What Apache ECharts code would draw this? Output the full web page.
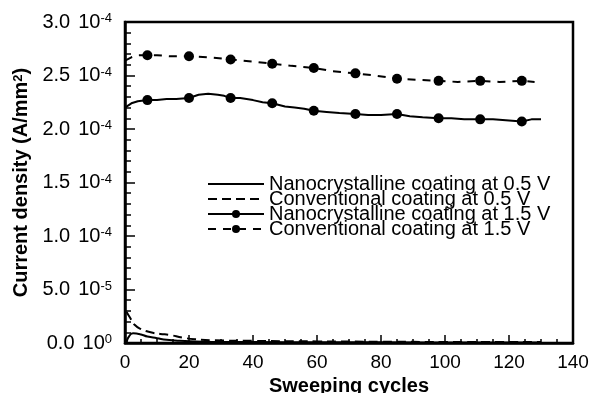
<!DOCTYPE html>
<html>
<head>
<meta charset="utf-8">
<script src="https://cdn.jsdelivr.net/npm/echarts@6/dist/echarts.min.js"></script>
<style>html,body{margin:0;padding:0;background:#fff}#c{width:592px;height:393px}</style>
</head>
<body>
<div id="c"></div>
<script>
// Values in units of 10^-4 A/mm^2
const seriesNames = [
  'Nanocrystalline coating at 0.5 V',
  'Conventional coating at 0.5 V',
  'Nanocrystalline coating at 1.5 V',
  'Conventional coating at 1.5 V'
];
const nano05X = [0.5, 1, 2.5, 5, 7, 10, 13, 17, 22, 30, 50, 80, 110, 130];
const nano05Y = [0.0, 0.05, 0.09, 0.08, 0.06, 0.045, 0.03, 0.02, 0.015, 0.01, 0.008, 0.006, 0.005, 0.005];
const conv05X = [0.5, 1.5, 3, 5, 8, 11, 14, 18, 22, 28, 40, 60, 80, 100, 130];
const conv05Y = [0.29, 0.24, 0.17, 0.13, 0.10, 0.085, 0.075, 0.05, 0.035, 0.025, 0.02, 0.015, 0.012, 0.01, 0.01];
const nano15X = [0, 2, 4, 7, 10, 13, 16, 20, 23, 26, 29, 31, 33, 36, 40, 43, 46, 50, 53, 56, 59, 63, 67, 72, 76, 80, 85, 89, 93, 98, 102, 106, 111, 115, 120, 124, 127, 130];
const nano15Y = [2.20, 2.24, 2.26, 2.27, 2.27, 2.28, 2.28, 2.29, 2.32, 2.33, 2.32, 2.31, 2.29, 2.29, 2.27, 2.25, 2.24, 2.21, 2.20, 2.19, 2.17, 2.16, 2.15, 2.14, 2.13, 2.13, 2.14, 2.12, 2.11, 2.10, 2.10, 2.09, 2.09, 2.09, 2.08, 2.07, 2.09, 2.09];
const conv15X = [0, 2, 4, 7, 10, 14, 20, 26, 33, 40, 46, 52, 59, 65, 72, 78, 85, 91, 98, 104, 111, 117, 124, 128];
const conv15Y = [2.64, 2.67, 2.69, 2.69, 2.69, 2.68, 2.68, 2.67, 2.65, 2.63, 2.61, 2.59, 2.57, 2.54, 2.52, 2.50, 2.47, 2.46, 2.45, 2.44, 2.45, 2.44, 2.45, 2.44];
const markerX = [7, 20, 33, 46, 59, 72, 85, 98, 111, 124];
const yTickMant = ['0.0', '5.0', '1.0', '1.5', '2.0', '2.5', '3.0'];
const yTickExp = ['0', '-5', '-4', '-4', '-4', '-4', '-4'];

const FONT = 'Liberation Sans, Arial, Helvetica, sans-serif';
function pairs(xs, ys, markers) {
  return xs.map((x, i) => {
    const d = { value: [x, ys[i]] };
    if (markers) d.symbol = markers.indexOf(x) >= 0 ? 'circle' : 'none';
    return d;
  });
}
const chart = echarts.init(document.getElementById('c'), null, { renderer: 'canvas' });
chart.setOption({
  animation: false,
  backgroundColor: '#fff',
  grid: { left: 125, right: 19, top: 22, bottom: 50, containLabel: false, outerBoundsMode: 'none', show: true, borderColor: '#000', borderWidth: 2.5, backgroundColor: 'transparent' },
  legend: {
    orient: 'vertical', left: 207, top: 174, padding: 0, itemGap: -5,
    itemWidth: 56, itemHeight: 10,
    data: [
      { name: seriesNames[0], itemStyle: { opacity: 0 }, lineStyle: { color: '#000', width: 2, type: 'solid' } },
      { name: seriesNames[1], itemStyle: { opacity: 0 }, lineStyle: { color: '#000', width: 2, type: [9, 5] } },
      { name: seriesNames[2] },
      { name: seriesNames[3] }
    ],
    textStyle: { fontFamily: FONT, fontSize: 20, color: '#000' }
  },
  xAxis: {
    type: 'value', min: 0, max: 140, interval: 20,
    name: 'Sweeping cycles', nameLocation: 'middle', nameGap: 33,
    nameTextStyle: { fontFamily: FONT, fontSize: 20, fontWeight: 'bold', color: '#000' },
    axisLine: { show: true, lineStyle: { color: '#000', width: 2.5 } },
    axisTick: { show: true, inside: true, length: 8, lineStyle: { color: '#000', width: 1.5 } },
    minorTick: { show: true, splitNumber: 4, length: 4, lineStyle: { color: '#000', width: 1.5 } },
    splitLine: { show: false },
    axisLabel: { fontFamily: FONT, fontSize: 19, color: '#000', margin: 10 }
  },
  yAxis: {
    type: 'value', min: 0, max: 3, interval: 0.5,
    name: '{b|Current density (A/mm}{bs|2}{b|)}', nameLocation: 'middle', nameGap: 86,
    nameTextStyle: {
      fontFamily: FONT, fontSize: 20, fontWeight: 'bold', color: '#000',
      rich: {
        b: { fontFamily: FONT, fontSize: 20, fontWeight: 'bold', color: '#000' },
        bs: { fontFamily: FONT, fontSize: 13, fontWeight: 'bold', color: '#000', verticalAlign: 'top', lineHeight: 13 }
      }
    },
    axisLine: { show: true, lineStyle: { color: '#000', width: 2.5 } },
    axisTick: { show: true, inside: true, length: 10, lineStyle: { color: '#000', width: 1.5 } },
    minorTick: { show: true, splitNumber: 5, length: 6, lineStyle: { color: '#000', width: 1.5 } },
    splitLine: { show: false },
    axisLabel: {
      margin: 13, fontFamily: FONT, fontSize: 20, color: '#000',
      formatter: function (v) {
        const i = Math.round(v / 0.5);
        return '{m|' + yTickMant[i] + '}{t|10}{s|' + yTickExp[i] + '}';
      },
      rich: {
        m: { fontFamily: FONT, fontSize: 20, color: '#000', padding: [0, 8, 0, 0] },
        t: { fontFamily: FONT, fontSize: 20, color: '#000' },
        s: { fontFamily: FONT, fontSize: 13, color: '#000', verticalAlign: 'top', lineHeight: 13 }
      }
    }
  },
  series: [
    {
      name: seriesNames[0], type: 'line', data: pairs(nano05X, nano05Y), symbol: 'none', smooth: true,
      lineStyle: { color: '#000', width: 2, type: 'solid' }, itemStyle: { color: '#000' }
    },
    {
      name: seriesNames[1], type: 'line', data: pairs(conv05X, conv05Y), symbol: 'none', smooth: true,
      lineStyle: { color: '#000', width: 2, type: [9, 5] }, itemStyle: { color: '#000' }
    },
    {
      name: seriesNames[2], type: 'line', data: pairs(nano15X, nano15Y, markerX), symbol: 'circle', symbolSize: 10,
      showAllSymbol: true,
      lineStyle: { color: '#000', width: 2, type: 'solid' }, itemStyle: { color: '#000' }
    },
    {
      name: seriesNames[3], type: 'line', data: pairs(conv15X, conv15Y, markerX), symbol: 'circle', symbolSize: 10,
      showAllSymbol: true,
      lineStyle: { color: '#000', width: 2, type: [8, 7] }, itemStyle: { color: '#000' }
    }
  ]
});
</script>
</body>
</html>
